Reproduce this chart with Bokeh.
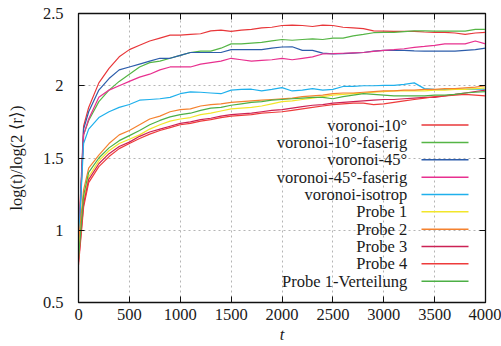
from bokeh.plotting import figure
from bokeh.models import FixedTicker, CustomJSTickFormatter, LinearAxis, ColumnDataSource
from bokeh.core.properties import value
from bokeh.embed import file_html
from bokeh.resources import INLINE

t = [0, 50, 100] + list(range(200, 4001, 100))

voronoi_10 = [0.93, 1.72, 1.85, 2.02, 2.12, 2.20, 2.25, 2.28, 2.31, 2.33, 2.35, 2.35, 2.355, 2.36, 2.38, 2.385,
              2.376, 2.385, 2.39, 2.40, 2.405, 2.417, 2.42, 2.417, 2.41, 2.42, 2.417, 2.405, 2.40, 2.395, 2.38,
              2.378, 2.376, 2.376, 2.376, 2.372, 2.37, 2.37, 2.365, 2.355, 2.365, 2.37]
voronoi_10_f = [0.88, 1.66, 1.76, 1.89, 1.97, 2.03, 2.08, 2.13, 2.16, 2.17, 2.19, 2.21, 2.23, 2.24, 2.24,
                2.26, 2.29, 2.29, 2.295, 2.30, 2.31, 2.32, 2.315, 2.32, 2.325, 2.32, 2.33, 2.33, 2.345, 2.355,
                2.367, 2.37, 2.37, 2.375, 2.38, 2.38, 2.378, 2.378, 2.378, 2.378, 2.39, 2.39]
voronoi_45 = [0.86, 1.70, 1.82, 1.97, 2.05, 2.11, 2.13, 2.15, 2.17, 2.19, 2.19, 2.21, 2.23, 2.23, 2.23, 2.23,
              2.25, 2.25, 2.25, 2.25, 2.26, 2.268, 2.27, 2.245, 2.245, 2.226, 2.22, 2.222, 2.226, 2.23, 2.24,
              2.245, 2.245, 2.245, 2.242, 2.24, 2.24, 2.24, 2.24, 2.245, 2.25, 2.26]
voronoi_45_f = [0.92, 1.66, 1.77, 1.92, 1.97, 2.00, 2.03, 2.06, 2.08, 2.11, 2.13, 2.13, 2.13, 2.15, 2.16,
                2.17, 2.19, 2.18, 2.17, 2.175, 2.18, 2.19, 2.18, 2.19, 2.20, 2.22, 2.222, 2.225, 2.228, 2.23,
                2.238, 2.245, 2.25, 2.256, 2.265, 2.272, 2.28, 2.29, 2.29, 2.29, 2.31, 2.29]
voronoi_iso = [0.90, 1.60, 1.70, 1.78, 1.82, 1.85, 1.87, 1.90, 1.905, 1.91, 1.92, 1.945, 1.957, 1.955,
               1.95, 1.945, 1.97, 1.975, 1.976, 1.965, 1.975, 1.987, 1.964, 1.97, 1.98, 1.97, 1.975, 1.995,
               1.995, 2.0, 2.0, 2.003, 2.003, 2.01, 2.02, 1.98, 1.975, 1.974, 1.975, 1.975, 1.976, 1.976]
probe_1 = [0.85, 1.21, 1.37, 1.48, 1.55, 1.60, 1.63, 1.66, 1.70, 1.73, 1.755, 1.77, 1.78, 1.80, 1.81, 1.825,
           1.84, 1.845, 1.85, 1.86, 1.875, 1.89, 1.895, 1.905, 1.915, 1.925, 1.935, 1.94, 1.945, 1.95, 1.955,
           1.96, 1.965, 1.965, 1.965, 1.965, 1.97, 1.97, 1.975, 1.975, 1.98, 1.985]
probe_2 = [0.92, 1.28, 1.43, 1.52, 1.60, 1.66, 1.69, 1.73, 1.77, 1.79, 1.82, 1.835, 1.84, 1.86, 1.87, 1.875,
           1.885, 1.89, 1.895, 1.90, 1.905, 1.91, 1.915, 1.925, 1.93, 1.935, 1.945, 1.95, 1.95, 1.955, 1.96,
           1.965, 1.965, 1.97, 1.97, 1.975, 1.975, 1.98, 1.98, 1.985, 1.99, 2.0]
probe_3 = [0.78, 1.18, 1.35, 1.46, 1.53, 1.58, 1.61, 1.65, 1.68, 1.70, 1.72, 1.74, 1.75, 1.765, 1.775, 1.79,
           1.80, 1.805, 1.81, 1.82, 1.83, 1.835, 1.845, 1.855, 1.865, 1.87, 1.88, 1.885, 1.89, 1.895, 1.90,
           1.905, 1.905, 1.91, 1.915, 1.92, 1.92, 1.93, 1.94, 1.95, 1.96, 1.97]
probe_4 = [0.76, 1.16, 1.33, 1.44, 1.51, 1.565, 1.60, 1.635, 1.665, 1.69, 1.71, 1.73, 1.74, 1.755, 1.765,
           1.78, 1.79, 1.795, 1.80, 1.81, 1.815, 1.82, 1.83, 1.84, 1.85, 1.86, 1.87, 1.875, 1.88, 1.88, 1.87,
           1.875, 1.885, 1.895, 1.905, 1.915, 1.925, 1.93, 1.935, 1.94, 1.935, 1.93]
probe_1_vert = [0.80, 1.24, 1.40, 1.50, 1.57, 1.62, 1.655, 1.69, 1.73, 1.76, 1.785, 1.80, 1.81, 1.83, 1.845,
                1.85, 1.865, 1.875, 1.885, 1.89, 1.90, 1.905, 1.91, 1.915, 1.92, 1.92, 1.91, 1.925, 1.935,
                1.945, 1.94, 1.935, 1.93, 1.93, 1.93, 1.93, 1.935, 1.935, 1.94, 1.95, 1.955, 1.96]

names = ["voronoi-10°", "voronoi-10°-faserig", "voronoi-45°", "voronoi-45°-faserig", "voronoi-isotrop",
         "Probe 1", "Probe 2", "Probe 3", "Probe 4", "Probe 1-Verteilung"]
series = [voronoi_10, voronoi_10_f, voronoi_45, voronoi_45_f, voronoi_iso,
          probe_1, probe_2, probe_3, probe_4, probe_1_vert]
colors = ["#e8373a", "#55b545", "#2d5dab", "#e8308f", "#1fb0ec",
          "#f2e62a", "#f5822f", "#cc2255", "#ee3b3b", "#4caf45"]

y_ticks = [0.5, 1, 1.5, 2, 2.5]
x_ticks = [0, 500, 1000, 1500, 2000, 2500, 3000, 3500, 4000]

FONT = "'Liberation Serif'"

p = figure(width=501, height=346, x_range=(0, 4000), y_range=(0.5, 2.5),
           output_backend="svg", toolbar_location=None,
           min_border_left=78, min_border_right=16, min_border_top=13, min_border_bottom=43)
p.background_fill_color = "white"
p.border_fill_color = "white"
p.outline_line_color = "#111111"
p.outline_line_width = 1.3
p.outline_line_alpha = 1.0

fmt = CustomJSTickFormatter(code="return tick.toString();")
blank = CustomJSTickFormatter(code="return '';")
for ax in (p.xaxis[0], p.yaxis[0]):
    ax.major_tick_in = 6
    ax.major_tick_out = 0
    ax.minor_tick_in = 0
    ax.minor_tick_out = 0
    ax.axis_line_color = "#111111"
    ax.major_tick_line_color = "#111111"
    ax.major_label_text_font = FONT
    ax.major_label_text_font_size = "16.5px"
    ax.major_label_text_color = "#1a1a1a"
    ax.axis_label_text_font = FONT
    ax.axis_label_text_font_size = "16.5px"
    ax.axis_label_text_color = "#1a1a1a"
    ax.formatter = fmt

p.xaxis[0].ticker = FixedTicker(ticks=x_ticks)
p.yaxis[0].ticker = FixedTicker(ticks=y_ticks)
p.xaxis[0].axis_label = "t"
p.xaxis[0].axis_label_text_font_style = "italic"
p.xaxis[0].major_label_standoff = 6
p.xaxis[0].axis_label_standoff = 2
p.yaxis[0].axis_label = "log(t)/log(2 ⟨r⟩)"
p.yaxis[0].axis_label_text_font_style = "normal"
p.yaxis[0].major_label_standoff = 15
p.yaxis[0].axis_label_standoff = 14

# mirror ticks on top / right
top = LinearAxis(ticker=FixedTicker(ticks=x_ticks), formatter=blank, major_tick_in=6, major_tick_out=0,
                 minor_tick_in=0, minor_tick_out=0, major_label_standoff=0,
                 axis_line_color="#111111", major_tick_line_color="#111111")
right = LinearAxis(ticker=FixedTicker(ticks=y_ticks), formatter=blank, major_tick_in=6, major_tick_out=0,
                   minor_tick_in=0, minor_tick_out=0, major_label_standoff=0,
                   axis_line_color="#111111", major_tick_line_color="#111111")
p.add_layout(top, "above")
p.add_layout(right, "right")

p.xgrid.ticker = FixedTicker(ticks=x_ticks)
p.ygrid.ticker = FixedTicker(ticks=y_ticks)
for g in (p.xgrid[0], p.ygrid[0]):
    g.grid_line_color = "#b5b5b5"
    g.grid_line_dash = "2 3"
    g.grid_line_width = 1

for name, ys, c in zip(names, series, colors):
    src = ColumnDataSource(dict(t=t, v=ys))
    p.line("t", "v", source=src, line_color=c, line_width=1.2)

# legend (gnuplot style: label right-aligned, sample to the right)
n = len(names)
leg_y = [1.7276 - i * 0.12 for i in range(n)]
p.text(x=[3230] * n, y=leg_y, text=names, text_align="right", text_baseline="middle",
       text_font=value(FONT), text_font_size="16.5px", text_color="#1a1a1a")
p.segment(x0=[3371] * n, x1=[3833] * n, y0=leg_y, y1=leg_y, line_color=colors, line_width=1.5)

open("out.html", "w").write(file_html(p, INLINE))
